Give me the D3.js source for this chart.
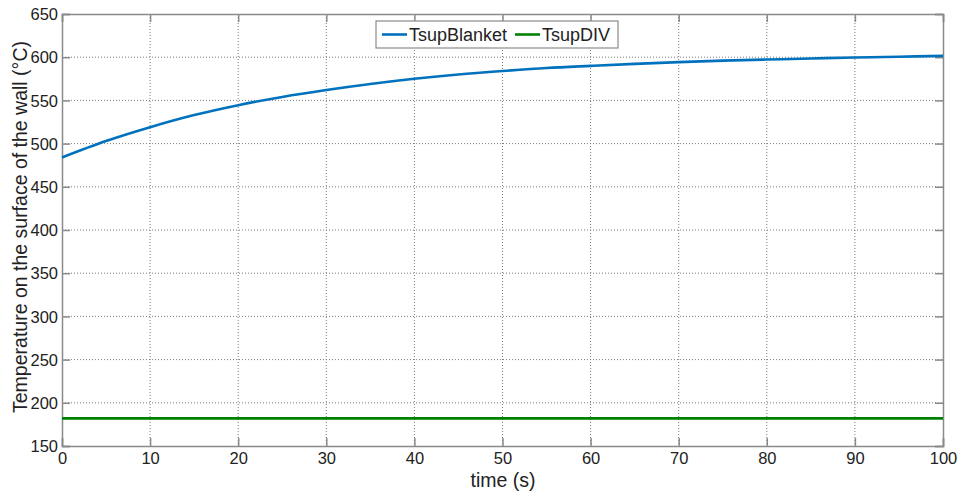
<!DOCTYPE html>
<html><head><meta charset="utf-8">
<script src="https://cdn.jsdelivr.net/npm/d3@7"></script>
<style>body{margin:0;background:#fff;} text{font-family:"Liberation Sans",Arial,sans-serif;fill:#222;}</style>
</head><body>
<svg id="c" width="958" height="493"></svg>
<script>
const time = [0,5,10,15,20,25,30,35,40,45,50,55,60,65,70,75,80,85,90,95,100];
const tsupBlanket = [484,503,519,533,544.5,554,562,569,575,580,584,587.5,590,592.3,594.3,596,597.3,598.5,599.6,600.6,601.5];
const tsupDIV = [182,182,182,182,182,182,182,182,182,182,182,182,182,182,182,182,182,182,182,182,182];
const xTicks = [0,10,20,30,40,50,60,70,80,90,100];
const yTicks = [150,200,250,300,350,400,450,500,550,600,650];
const seriesNames = ["TsupBlanket","TsupDIV"];
const colors = ["#0072BD","#008000"];

const svg = d3.select("#c");
const L=62,R=943,T=14,B=446;
const x = d3.scaleLinear().domain([0,100]).range([L,R]);
const y = d3.scaleLinear().domain([150,650]).range([B,T]);

// grid
const g = svg.append("g");
g.selectAll(".vg").data(xTicks.slice(1,-1)).enter().append("line")
 .attr("x1",d=>x(d)).attr("x2",d=>x(d)).attr("y1",T).attr("y2",B)
 .attr("stroke","#7a7a7a").attr("stroke-width",1).attr("stroke-dasharray","1,2");
g.selectAll(".hg").data(yTicks.slice(1,-1)).enter().append("line")
 .attr("y1",d=>y(d)).attr("y2",d=>y(d)).attr("x1",L).attr("x2",R)
 .attr("stroke","#7a7a7a").attr("stroke-width",1).attr("stroke-dasharray","1,2");

// axes
const tk = 8;
const xa = svg.append("g").attr("transform",`translate(0,${B})`)
 .call(d3.axisBottom(x).tickValues(xTicks).tickSize(-tk).tickPadding(6).tickFormat(d3.format("d")));
const ya = svg.append("g").attr("transform",`translate(${L},0)`)
 .call(d3.axisLeft(y).tickValues(yTicks).tickSize(-tk).tickPadding(4).tickFormat(d3.format("d")));
const xt = svg.append("g").attr("transform",`translate(0,${T})`)
 .call(d3.axisTop(x).tickValues(xTicks).tickSize(-tk).tickFormat(""));
const yr = svg.append("g").attr("transform",`translate(${R},0)`)
 .call(d3.axisRight(y).tickValues(yTicks).tickSize(-tk).tickFormat(""));
[xa,ya,xt,yr].forEach(a=>{
  a.selectAll("path").attr("stroke","#8a8a8a").attr("stroke-width",1.5);
  a.selectAll("line").attr("stroke","#8a8a8a").attr("stroke-width",1.5);
  a.selectAll("text").attr("font-size",16.5).attr("fill","#222").style("font-family","Liberation Sans, Arial, sans-serif");
});
ya.selectAll("text").attr("dy","0.35em");

// lines
const line = d3.line().x((d,i)=>x(time[i])).y(d=>y(d)).curve(d3.curveMonotoneX);
[tsupBlanket,tsupDIV].forEach((s,i)=>{
  svg.append("path").datum(s).attr("d",line).attr("fill","none")
   .attr("stroke",colors[i]).attr("stroke-width",2.6);
});

// labels
svg.append("text").attr("x",503).attr("y",487).attr("text-anchor","middle")
 .attr("font-size",19.5).text("time (s)");
svg.append("text").attr("transform",`translate(27,227) rotate(-90)`)
 .attr("text-anchor","middle").attr("font-size",19.5)
 .text("Temperature on the surface of the wall (°C)");

// legend
const lg = svg.append("g");
lg.append("rect").attr("x",376).attr("y",21).attr("width",242).attr("height",27)
 .attr("fill","#fff").attr("stroke","#8a8a8a").attr("stroke-width",1.2);
const legX = [382,515];
seriesNames.forEach((n,i)=>{
  lg.append("line").attr("x1",legX[i]).attr("x2",legX[i]+25).attr("y1",34.5).attr("y2",34.5)
   .attr("stroke",colors[i]).attr("stroke-width",2.6);
  lg.append("text").attr("x",legX[i]+27).attr("y",41).attr("font-size",18).text(n);
});
</script>
</body></html>
